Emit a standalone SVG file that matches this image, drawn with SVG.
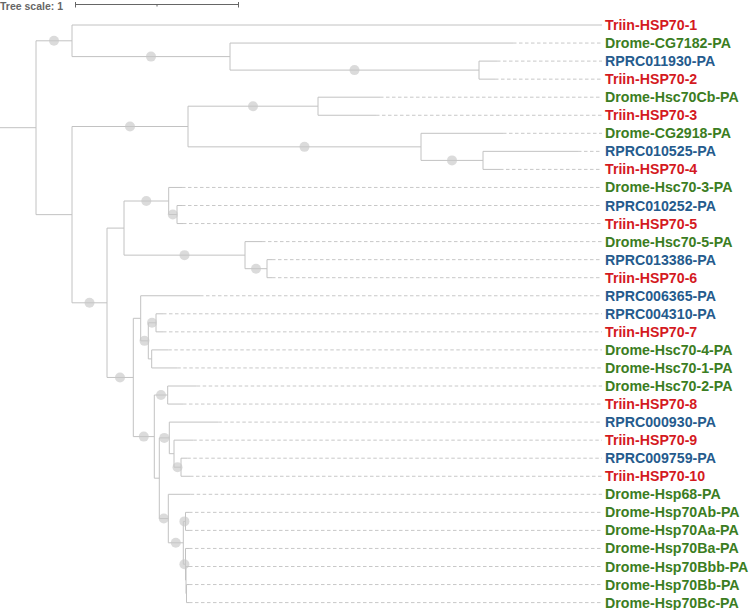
<svg xmlns="http://www.w3.org/2000/svg" width="750" height="610" viewBox="0 0 750 610">
<style>
.br{fill:none;stroke:#c2c2c2;stroke-width:1}
.da{fill:none;stroke:#c8c8c8;stroke-width:1;stroke-dasharray:3.5 2.5}
.bs{fill:#c8c8c8;fill-opacity:0.65}
.lb{font-family:"Liberation Sans",Arial,sans-serif;font-weight:bold;font-size:14.2px}
.r{fill:#d41a1f}.g{fill:#3b7d22}.b{fill:#255b8d}
.sc{fill:none;stroke:#666;stroke-width:1}
</style>
<rect width="750" height="610" fill="#fff"/>
<g id="scale">
<text x="0" y="9.5" font-family="'Liberation Sans',Arial,sans-serif" font-weight="bold" font-size="10.5" fill="#666">Tree scale: 1</text>
<path class="sc" d="M75,4.5H239M75.5,2V7.5M238.5,2V7.5M157,4.5V6.5"/>
</g>
<g id="connectors">
<path class="br" d="M0,127.7H36M36,40.8V214.65
M36,40.8H72M72,25V56.6M72,25H602
M72,56.6H230M230,43.05V70.1M230,43.05H513
M230,70.1H479M479,61.1V79.15M479,61.1H497M479,79.15H495
M36,214.65H72M72,126.5V302.8
M72,126.5H188M188,106.2V146.85
M188,106.2H318M318,97.2V115.25M318,97.2H380M318,115.25H376
M188,146.85H421M421,133.3V160.4M421,133.3H503
M421,160.4H483M483,151.35V169.4M483,151.35H578M483,169.4H500
M72,302.8H107M107,228.1V377.45
M107,228.1H124M124,201V255.15
M124,201H168.7M168.7,187.45V214.5M168.7,187.45H182
M168.7,214.5H177M177,205.5V223.55M177,205.5H182M177,223.55H183
M124,255.15H245M245,241.6V268.7M245,241.6H262
M245,268.7H267M267,259.65V277.7M267,259.65H272M267,277.7H272
M107,377.45H133.3M133.3,318.3V436.6
M133.3,318.3H140.7M140.7,295.75V340.85M140.7,295.75H200
M140.7,340.85H148.3M148.3,322.8V358.9
M148.3,322.8H156M156,313.8V331.85M156,313.8H163M156,331.85H163
M148.3,358.9H151.7M151.7,349.9V367.95M151.7,349.9H168.3M151.7,367.95H177.3
M133.3,436.6H154.3M154.3,395V478.2
M154.3,395H167.7M167.7,386V404.05M167.7,386H196.7M167.7,404.05H183
M154.3,478.2H159.3M159.3,437.9V518.55
M159.3,437.9H169.3M169.3,422.1V453.7M169.3,422.1H218.3
M169.3,453.7H174M174,440.15V467.2M174,440.15H193.3
M174,467.2H181M181,458.2V476.25M181,458.2H187.3M181,476.25H190
M159.3,518.55H168.3M168.3,494.3V542.8M168.3,494.3H190.7
M168.3,542.8H183.3M183.3,521.4V564.2
M183.3,521.4H185.5M185.5,512.35V530.4M185.5,512.35H189M185.5,530.4H189
M183.3,564.2H185.5M185.5,548.45V580M185.5,548.45H189
M185.5,580H186M186,566.5V593.6M186,566.5H189
M186,593.6H186.5M186.5,584.55V602.6M186.5,584.55H189M186.5,602.6H189"/>
<path class="da" d="M513,43.05H602M497,61.1H602M495,79.15H602M380,97.2H602M376,115.25H602M503,133.3H602M578,151.35H602M500,169.4H602
M182,187.45H602M182,205.5H602M183,223.55H602M262,241.6H602M272,259.65H602M272,277.7H602
M200,295.75H602M163,313.8H602M163,331.85H602M168.3,349.9H602M177.3,367.95H602
M196.7,386H602M183,404.05H602M218.3,422.1H602M193.3,440.15H602M187.3,458.2H602M190,476.25H602
M190.7,494.3H602M189,512.35H602M189,530.4H602M189,548.45H602M189,566.5H602M189,584.55H602M189,602.6H602"/>
</g>
<g id="support">
<circle class="bs" cx="54" cy="40.8" r="5"/>
<circle class="bs" cx="151" cy="56.6" r="5"/>
<circle class="bs" cx="354.5" cy="70.1" r="5"/>
<circle class="bs" cx="130" cy="126.5" r="5"/>
<circle class="bs" cx="253" cy="106.2" r="5"/>
<circle class="bs" cx="304.5" cy="146.85" r="5"/>
<circle class="bs" cx="452" cy="160.4" r="5"/>
<circle class="bs" cx="89.5" cy="302.8" r="5"/>
<circle class="bs" cx="146.3" cy="201" r="5"/>
<circle class="bs" cx="172.8" cy="214.5" r="5"/>
<circle class="bs" cx="184.5" cy="255.15" r="5"/>
<circle class="bs" cx="256" cy="268.7" r="5"/>
<circle class="bs" cx="120" cy="377.45" r="5"/>
<circle class="bs" cx="144.5" cy="340.85" r="5"/>
<circle class="bs" cx="152" cy="322.8" r="5"/>
<circle class="bs" cx="143.8" cy="436.6" r="5"/>
<circle class="bs" cx="161" cy="395" r="5"/>
<circle class="bs" cx="164.3" cy="437.9" r="5"/>
<circle class="bs" cx="177.5" cy="467.2" r="5"/>
<circle class="bs" cx="163.8" cy="518.55" r="5"/>
<circle class="bs" cx="175.8" cy="542.8" r="5"/>
<circle class="bs" cx="184.4" cy="521.4" r="5"/>
<circle class="bs" cx="184.4" cy="564.2" r="5"/>
</g>
<g id="leaf-Triin-HSP70-1"><text class="lb r" x="605" y="30">Triin-HSP70-1</text></g>
<g id="leaf-Drome-CG7182-PA"><text class="lb g" x="605" y="48.05">Drome-CG7182-PA</text></g>
<g id="leaf-RPRC011930-PA"><text class="lb b" x="605" y="66.1">RPRC011930-PA</text></g>
<g id="leaf-Triin-HSP70-2"><text class="lb r" x="605" y="84.15">Triin-HSP70-2</text></g>
<g id="leaf-Drome-Hsc70Cb-PA"><text class="lb g" x="605" y="102.2">Drome-Hsc70Cb-PA</text></g>
<g id="leaf-Triin-HSP70-3"><text class="lb r" x="605" y="120.25">Triin-HSP70-3</text></g>
<g id="leaf-Drome-CG2918-PA"><text class="lb g" x="605" y="138.3">Drome-CG2918-PA</text></g>
<g id="leaf-RPRC010525-PA"><text class="lb b" x="605" y="156.35">RPRC010525-PA</text></g>
<g id="leaf-Triin-HSP70-4"><text class="lb r" x="605" y="174.4">Triin-HSP70-4</text></g>
<g id="leaf-Drome-Hsc70-3-PA"><text class="lb g" x="605" y="192.45">Drome-Hsc70-3-PA</text></g>
<g id="leaf-RPRC010252-PA"><text class="lb b" x="605" y="210.5">RPRC010252-PA</text></g>
<g id="leaf-Triin-HSP70-5"><text class="lb r" x="605" y="228.55">Triin-HSP70-5</text></g>
<g id="leaf-Drome-Hsc70-5-PA"><text class="lb g" x="605" y="246.6">Drome-Hsc70-5-PA</text></g>
<g id="leaf-RPRC013386-PA"><text class="lb b" x="605" y="264.65">RPRC013386-PA</text></g>
<g id="leaf-Triin-HSP70-6"><text class="lb r" x="605" y="282.7">Triin-HSP70-6</text></g>
<g id="leaf-RPRC006365-PA"><text class="lb b" x="605" y="300.75">RPRC006365-PA</text></g>
<g id="leaf-RPRC004310-PA"><text class="lb b" x="605" y="318.8">RPRC004310-PA</text></g>
<g id="leaf-Triin-HSP70-7"><text class="lb r" x="605" y="336.85">Triin-HSP70-7</text></g>
<g id="leaf-Drome-Hsc70-4-PA"><text class="lb g" x="605" y="354.9">Drome-Hsc70-4-PA</text></g>
<g id="leaf-Drome-Hsc70-1-PA"><text class="lb g" x="605" y="372.95">Drome-Hsc70-1-PA</text></g>
<g id="leaf-Drome-Hsc70-2-PA"><text class="lb g" x="605" y="391">Drome-Hsc70-2-PA</text></g>
<g id="leaf-Triin-HSP70-8"><text class="lb r" x="605" y="409.05">Triin-HSP70-8</text></g>
<g id="leaf-RPRC000930-PA"><text class="lb b" x="605" y="427.1">RPRC000930-PA</text></g>
<g id="leaf-Triin-HSP70-9"><text class="lb r" x="605" y="445.15">Triin-HSP70-9</text></g>
<g id="leaf-RPRC009759-PA"><text class="lb b" x="605" y="463.2">RPRC009759-PA</text></g>
<g id="leaf-Triin-HSP70-10"><text class="lb r" x="605" y="481.25">Triin-HSP70-10</text></g>
<g id="leaf-Drome-Hsp68-PA"><text class="lb g" x="605" y="499.3">Drome-Hsp68-PA</text></g>
<g id="leaf-Drome-Hsp70Ab-PA"><text class="lb g" x="605" y="517.35">Drome-Hsp70Ab-PA</text></g>
<g id="leaf-Drome-Hsp70Aa-PA"><text class="lb g" x="605" y="535.4">Drome-Hsp70Aa-PA</text></g>
<g id="leaf-Drome-Hsp70Ba-PA"><text class="lb g" x="605" y="553.45">Drome-Hsp70Ba-PA</text></g>
<g id="leaf-Drome-Hsp70Bbb-PA"><text class="lb g" x="605" y="571.5">Drome-Hsp70Bbb-PA</text></g>
<g id="leaf-Drome-Hsp70Bb-PA"><text class="lb g" x="605" y="589.55">Drome-Hsp70Bb-PA</text></g>
<g id="leaf-Drome-Hsp70Bc-PA"><text class="lb g" x="605" y="607.6">Drome-Hsp70Bc-PA</text></g>
</svg>
